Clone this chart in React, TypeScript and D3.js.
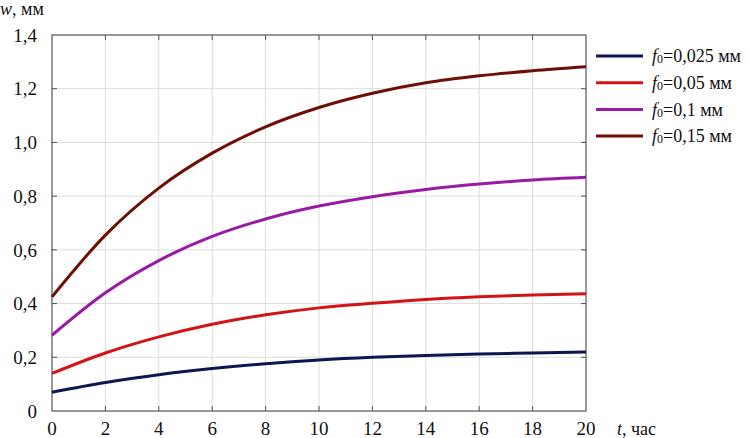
import * as d3 from 'd3'

const times = [0, 2, 4, 6, 8, 10, 12, 14, 16, 18, 20]
const w025 = [0.07, 0.106, 0.135, 0.158, 0.176, 0.19, 0.2, 0.207, 0.212, 0.216, 0.22]
const w05 = [0.14, 0.216, 0.276, 0.323, 0.358, 0.384, 0.401, 0.415, 0.425, 0.432, 0.437]
const w10 = [0.282, 0.44, 0.56, 0.65, 0.715, 0.763, 0.798, 0.825, 0.845, 0.86, 0.87]
const w15 = [0.425, 0.655, 0.83, 0.96, 1.058, 1.13, 1.183, 1.222, 1.248, 1.267, 1.282]
const seriesLabels = ['0,025', '0,05', '0,1', '0,15']
const seriesColors = ['#0d1652', '#d41414', '#9a1aa8', '#6e0f05']
const xTicks = [0, 2, 4, 6, 8, 10, 12, 14, 16, 18, 20]
const yTicks = [0, 0.2, 0.4, 0.6, 0.8, 1.0, 1.2, 1.4]

const W = 748
const H = 438
const margin = { left: 52, right: 162, top: 35, bottom: 27 }

export default function App() {
  const x = d3.scaleLinear().domain([0, 20]).range([margin.left, W - margin.right])
  const y = d3.scaleLinear().domain([0, 1.4]).range([H - margin.bottom, margin.top])
  const line = d3
    .line<number>()
    .x((_, i) => x(times[i]))
    .y((d) => y(d))
    .curve(d3.curveMonotoneX)

  const allSeries = [w025, w05, w10, w15]
  const fmt = (v: number) => (v === 0 ? '0' : v.toFixed(1).replace('.', ','))
  const x0 = x(0)
  const x1 = x(20)
  const y0 = y(0)
  const y1 = y(1.4)
  const font = "'Liberation Serif', 'DejaVu Serif', serif"

  return (
    <div style={{ position: 'absolute', left: 0, top: 0 }}>
      <svg width={W} height={H} style={{ display: 'block', background: '#fff', fontFamily: font }}>
        {/* grid */}
        {xTicks.slice(1, -1).map((t) => (
          <line key={'gx' + t} x1={x(t)} x2={x(t)} y1={y1} y2={y0} stroke="#dcdcdc" strokeWidth={1} />
        ))}
        {yTicks.slice(1, -1).map((t) => (
          <line key={'gy' + t} x1={x0} x2={x1} y1={y(t)} y2={y(t)} stroke="#dcdcdc" strokeWidth={1} />
        ))}
        {/* inward ticks */}
        {xTicks.slice(1, -1).map((t) => (
          <g key={'tx' + t} stroke="#555">
            <line x1={x(t)} x2={x(t)} y1={y0} y2={y0 - 5} />
            <line x1={x(t)} x2={x(t)} y1={y1} y2={y1 + 5} />
          </g>
        ))}
        {yTicks.slice(1, -1).map((t) => (
          <g key={'ty' + t} stroke="#555">
            <line x1={x0} x2={x0 + 5} y1={y(t)} y2={y(t)} />
            <line x1={x1} x2={x1 - 5} y1={y(t)} y2={y(t)} />
          </g>
        ))}
        <rect x={x0} y={y1} width={x1 - x0} height={y0 - y1} fill="none" stroke="#555" strokeWidth={1.2} />

        {/* curves */}
        {allSeries.map((s, i) => (
          <path key={'s' + i} d={line(s) ?? ''} fill="none" stroke={seriesColors[i]} strokeWidth={3} />
        ))}

        {/* tick labels */}
        {yTicks.map((t) => (
          <text key={'ly' + t} x={37} y={y(t)} dy="0.35em" textAnchor="end" fontSize={19} fill="#111">
            {fmt(t)}
          </text>
        ))}
        {xTicks.map((t) => (
          <text key={'lx' + t} x={x(t)} y={435} textAnchor="middle" fontSize={19} fill="#111">
            {t}
          </text>
        ))}
        <text x={0} y={15} fontSize={18} fill="#111">
          <tspan fontStyle="italic">w</tspan>, мм
        </text>
        <text x={617} y={435} fontSize={18} fill="#111">
          <tspan fontStyle="italic">t</tspan>, час
        </text>

        {/* legend */}
        {seriesLabels.map((lab, i) => {
          const ly = 56 + i * 26.7
          return (
            <g key={'lg' + i}>
              <line x1={596} x2={643} y1={ly} y2={ly} stroke={seriesColors[i]} strokeWidth={3} />
              <text x={652} y={ly} dy="0.35em" fontSize={18} fill="#111">
                <tspan fontStyle="italic">f</tspan>
                <tspan fontSize={12} dy={1}>0</tspan>
                <tspan dy={-1}>={lab} мм</tspan>
              </text>
            </g>
          )
        })}
      </svg>
    </div>
  )
}
